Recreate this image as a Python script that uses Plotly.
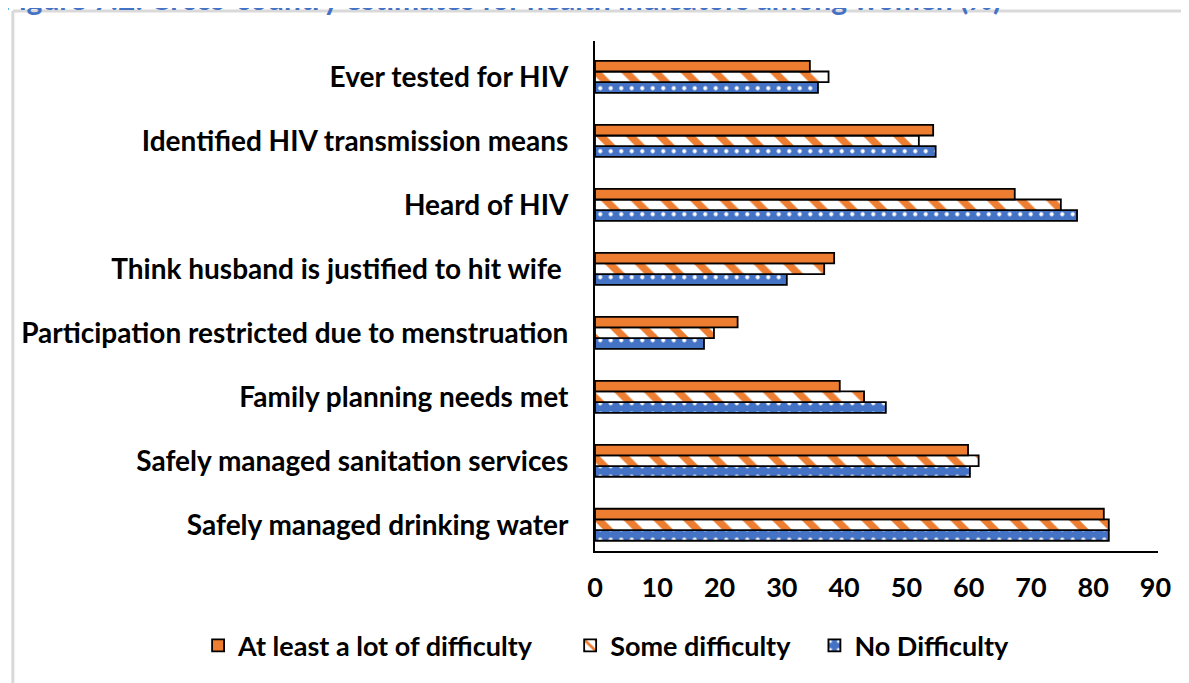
import plotly.graph_objects as go

categories = [
    "Safely managed drinking water",
    "Safely managed sanitation services",
    "Family planning needs met",
    "Participation restricted due to menstruation",
    "Think husband is justified to hit wife\u00a0",
    "Heard of HIV",
    "Identified HIV transmission means",
    "Ever tested for HIV",
]
no_difficulty = [82.5, 60.2, 46.7, 17.5, 30.8, 77.4, 54.7, 35.8]
some_difficulty = [82.5, 61.6, 43.2, 19.1, 36.8, 74.8, 52.0, 37.5]
lot_difficulty = [81.7, 59.9, 39.3, 22.9, 38.4, 67.4, 54.3, 34.5]

ORANGE = "#ED7D31"
BLUE = "#4472C4"
FONT = "Lato"
FS = 27

fig = go.Figure()
fig.add_trace(go.Bar(
    y=categories, x=no_difficulty, orientation="h", name="No Difficulty",
    marker=dict(color=BLUE, line=dict(color="black", width=1.8),
                pattern=dict(shape=".", fgcolor="white", bgcolor=BLUE, fgopacity=1,
                             size=10.5, solidity=0.12)),
))
fig.add_trace(go.Bar(
    y=categories, x=some_difficulty, orientation="h",
    name="Some difficulty" + "\u00a0" * 3,
    marker=dict(color="white", line=dict(color="black", width=1.8),
                pattern=dict(shape="\\", fgcolor=ORANGE, bgcolor="white", fgopacity=1,
                             size=21, solidity=0.35)),
))
fig.add_trace(go.Bar(
    y=categories, x=lot_difficulty, orientation="h",
    name="At least a lot of difficulty" + "\u00a0" * 5,
    marker=dict(color=ORANGE, line=dict(color="black", width=1.8)),
))

fig.update_layout(
    width=1181, height=675,
    paper_bgcolor="white", plot_bgcolor="white",
    barmode="group", bargap=0.5, bargroupgap=0,
    margin=dict(l=587, r=31, t=33, b=132),
    font=dict(family=FONT, color="black"),
    showlegend=True,
    legend=dict(orientation="h", traceorder="reversed", x=-0.705, xanchor="left",
                y=-0.186, yanchor="middle",
                font=dict(family=FONT, size=FS, color="black", weight="bold")),
    xaxis=dict(range=[0, 90.4], dtick=10, tick0=0, showline=True, linecolor="black",
               linewidth=2, showgrid=False, zeroline=False, ticks="",
               ticklabelstandoff=12,
               tickfont=dict(family=FONT, size=FS, color="black", weight="bold")),
    yaxis=dict(range=[-0.41, 7.56], showline=True, linecolor="black", linewidth=2,
               showgrid=False, zeroline=False, ticks="", ticklabelstandoff=19,
               tickfont=dict(family=FONT, size=28, color="black", weight="bold")),
    shapes=[
        dict(type="line", xref="paper", yref="paper", x0=-1.034, x1=-1.034, y0=1.059, y1=-0.4,
             line=dict(color="#d9d9d9", width=3)),
        dict(type="line", xref="paper", yref="paper", x0=-1.034, x1=1.1, y0=1.059, y1=1.059,
             line=dict(color="#d9d9d9", width=3)),
    ],
    annotations=[
        dict(text="Figure 7.2: Cross-country estimates for health indicators among women (%)",
             xref="paper", yref="paper", x=-1.057, y=1.045, xanchor="left", yanchor="bottom",
             showarrow=False,
             font=dict(family=FONT, size=30, color=BLUE, weight="bold")),
    ],
)

fig.write_html("out.html")
